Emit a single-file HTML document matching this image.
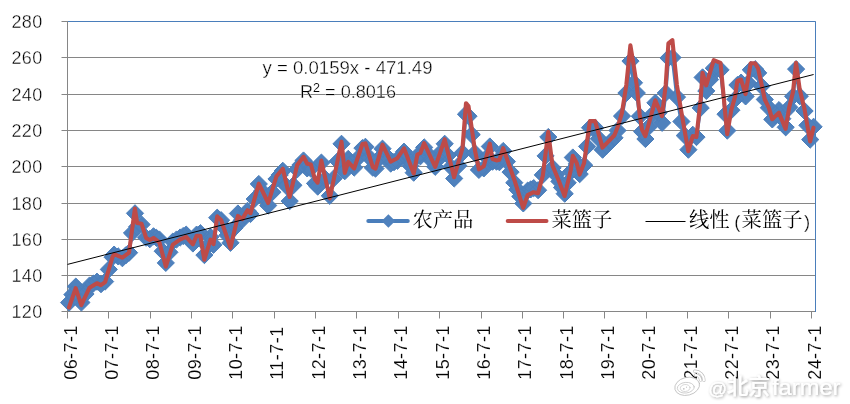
<!DOCTYPE html><html><head><meta charset="utf-8"><title>chart</title><style>html,body{margin:0;padding:0;background:#fff}body{width:850px;height:404px;overflow:hidden;font-family:"Liberation Sans",sans-serif}</style></head><body><svg width="850" height="404" viewBox="0 0 850 404" style="display:block">
<rect width="850" height="404" fill="#fff"/>
<path d="M61.5 21.5H815.5M61.5 57.5H815.5M61.5 94.5H815.5M61.5 130.5H815.5M61.5 166.5H815.5M61.5 203.5H815.5M61.5 239.5H815.5M61.5 275.5H815.5M61.5 311.5H815.5" stroke="#868686" stroke-width="1" fill="none"/>
<path d="M67.5 21.5V311.5M67.5 311.5V318.5M108.5 311.5V318.5M150.5 311.5V318.5M191.5 311.5V318.5M232.5 311.5V318.5M274.5 311.5V318.5M315.5 311.5V318.5M356.5 311.5V318.5M398.5 311.5V318.5M439.5 311.5V318.5M481.5 311.5V318.5M522.5 311.5V318.5M563.5 311.5V318.5M604.5 311.5V318.5M646.5 311.5V318.5M687.5 311.5V318.5M728.5 311.5V318.5M770.5 311.5V318.5M811.5 311.5V318.5" stroke="#868686" stroke-width="1" fill="none"/>
<path d="M68 21.5H815.5V312" stroke="#4A7EBB" stroke-width="1" fill="none"/>
<polyline points="69,302.6 75.7,286.6 81.3,302.5 89.5,285.5 96.9,281.7 100.9,284.2 105.1,281.6 112.5,257.2 114.1,254.6 122.3,258.2 129,252.7 134.9,213.3 137.1,226.8 141.6,224.5 146.1,237.7 149.8,239.2 153.5,236.3 159.4,239.5 165.8,262.9 172.8,241.6 180.2,237.5 186.2,234.6 192.9,243.5 196.6,234.6 200.3,233.2 204.3,255.1 210.5,236.8 213.5,244.8 217.2,217.7 221.1,220.2 230.5,242.8 237.9,213.5 242.3,219.6 247.5,210.8 250.5,214 258.8,184 268.2,205.5 276.5,179 282.8,170.8 289.6,201.1 297.2,169.4 303.5,160.5 307.2,168.4 310.9,168.7 315,183.4 317.6,186.6 321.3,162.6 329.8,195.8 341.5,143.8 344.8,171.2 348.2,158.9 354.1,167.6 362.4,148.1 365.4,146.8 372.8,167.7 375.5,168.6 382.5,148.7 390.6,163.6 397.3,160.8 404,151.7 413.7,172.7 417.4,155.8 420.4,156.3 424.1,147.4 435.2,166.8 444.7,143.8 454.1,178.5 462.5,152.9 466,114.2 468.5,116.2 474.9,153.1 478.9,169.9 483.8,168.4 489.8,146.5 492.5,161.7 496.5,161.6 499.4,162.2 503.2,151 514.3,182.7 523.2,203.4 527.6,190.6 533.6,188.1 538,190.2 542.8,174.9 548.2,137 552.5,167.9 559.3,181.4 564.6,193.7 570.7,171.8 572.8,157.5 576.7,163.9 579.6,174.1 584.1,165.2 589.9,127.7 595.1,127.7 602.5,149.7 614.4,137.8 617.4,130.5 621.9,116.1 626.3,93 630.4,61.1 633.9,82.8 636.7,93 639.7,116.3 642,131.6 645.3,139 655.3,102.8 662,122.8 665.7,93 668.4,58 672.4,57.5 676.9,97.1 681.3,121.5 688.3,149.7 692.7,134.8 696.4,137.1 700.6,107.9 702.5,77.4 706.2,90.9 713.7,68.2 720.5,69.9 725.4,114.2 727.2,130.6 731.3,110.2 735.1,99.2 737.3,85 741,82.6 745.5,96.4 750.7,69.8 755.1,69.2 758.1,72.9 764.8,99.5 768.8,107.7 772.2,119.4 778.9,110.1 785.6,127.3 789.3,107.4 793,96.3 796,69.1 799.7,96.2 804.5,111 810.1,139.6 813.5,126.8" fill="none" stroke="#4A7EBB" stroke-width="3.5" stroke-linejoin="round" stroke-linecap="round"/>
<path d="M60.5 302.6l8.6 -8.6l8.6 8.6l-8.6 8.6zM63.8 294.6l8.6 -8.6l8.6 8.6l-8.6 8.6zM67.2 286.6l8.6 -8.6l8.6 8.6l-8.6 8.6zM70 294.6l8.6 -8.6l8.6 8.6l-8.6 8.6zM72.8 302.5l8.6 -8.6l8.6 8.6l-8.6 8.6zM76.9 294l8.6 -8.6l8.6 8.6l-8.6 8.6zM81 285.5l8.6 -8.6l8.6 8.6l-8.6 8.6zM84.7 283.6l8.6 -8.6l8.6 8.6l-8.6 8.6zM88.4 281.7l8.6 -8.6l8.6 8.6l-8.6 8.6zM92.4 284.2l8.6 -8.6l8.6 8.6l-8.6 8.6zM96.5 281.6l8.6 -8.6l8.6 8.6l-8.6 8.6zM100.2 269.4l8.6 -8.6l8.6 8.6l-8.6 8.6zM104 257.2l8.6 -8.6l8.6 8.6l-8.6 8.6zM105.5 254.6l8.6 -8.6l8.6 8.6l-8.6 8.6zM109.6 256.4l8.6 -8.6l8.6 8.6l-8.6 8.6zM113.8 258.2l8.6 -8.6l8.6 8.6l-8.6 8.6zM117.1 255.4l8.6 -8.6l8.6 8.6l-8.6 8.6zM120.5 252.7l8.6 -8.6l8.6 8.6l-8.6 8.6zM123.4 233l8.6 -8.6l8.6 8.6l-8.6 8.6zM126.4 213.3l8.6 -8.6l8.6 8.6l-8.6 8.6zM128.5 226.8l8.6 -8.6l8.6 8.6l-8.6 8.6zM133 224.5l8.6 -8.6l8.6 8.6l-8.6 8.6zM137.5 237.7l8.6 -8.6l8.6 8.6l-8.6 8.6zM141.2 239.2l8.6 -8.6l8.6 8.6l-8.6 8.6zM144.9 236.3l8.6 -8.6l8.6 8.6l-8.6 8.6zM147.9 237.9l8.6 -8.6l8.6 8.6l-8.6 8.6zM150.8 239.5l8.6 -8.6l8.6 8.6l-8.6 8.6zM154.1 251.2l8.6 -8.6l8.6 8.6l-8.6 8.6zM157.2 262.9l8.6 -8.6l8.6 8.6l-8.6 8.6zM160.8 252.3l8.6 -8.6l8.6 8.6l-8.6 8.6zM164.2 241.6l8.6 -8.6l8.6 8.6l-8.6 8.6zM167.9 239.5l8.6 -8.6l8.6 8.6l-8.6 8.6zM171.6 237.5l8.6 -8.6l8.6 8.6l-8.6 8.6zM174.6 236l8.6 -8.6l8.6 8.6l-8.6 8.6zM177.6 234.6l8.6 -8.6l8.6 8.6l-8.6 8.6zM181 239.1l8.6 -8.6l8.6 8.6l-8.6 8.6zM184.3 243.5l8.6 -8.6l8.6 8.6l-8.6 8.6zM188 234.6l8.6 -8.6l8.6 8.6l-8.6 8.6zM191.8 233.2l8.6 -8.6l8.6 8.6l-8.6 8.6zM195.8 255.1l8.6 -8.6l8.6 8.6l-8.6 8.6zM198.8 246l8.6 -8.6l8.6 8.6l-8.6 8.6zM201.9 236.8l8.6 -8.6l8.6 8.6l-8.6 8.6zM204.9 244.8l8.6 -8.6l8.6 8.6l-8.6 8.6zM208.6 217.7l8.6 -8.6l8.6 8.6l-8.6 8.6zM212.5 220.2l8.6 -8.6l8.6 8.6l-8.6 8.6zM215.7 227.7l8.6 -8.6l8.6 8.6l-8.6 8.6zM218.8 235.3l8.6 -8.6l8.6 8.6l-8.6 8.6zM221.9 242.8l8.6 -8.6l8.6 8.6l-8.6 8.6zM225.6 228.2l8.6 -8.6l8.6 8.6l-8.6 8.6zM229.3 213.5l8.6 -8.6l8.6 8.6l-8.6 8.6zM233.8 219.6l8.6 -8.6l8.6 8.6l-8.6 8.6zM236.3 215.2l8.6 -8.6l8.6 8.6l-8.6 8.6zM238.9 210.8l8.6 -8.6l8.6 8.6l-8.6 8.6zM241.9 214l8.6 -8.6l8.6 8.6l-8.6 8.6zM246.1 199l8.6 -8.6l8.6 8.6l-8.6 8.6zM250.2 184l8.6 -8.6l8.6 8.6l-8.6 8.6zM253.4 191.1l8.6 -8.6l8.6 8.6l-8.6 8.6zM256.5 198.3l8.6 -8.6l8.6 8.6l-8.6 8.6zM259.6 205.5l8.6 -8.6l8.6 8.6l-8.6 8.6zM263.8 192.2l8.6 -8.6l8.6 8.6l-8.6 8.6zM267.9 179l8.6 -8.6l8.6 8.6l-8.6 8.6zM271.1 174.9l8.6 -8.6l8.6 8.6l-8.6 8.6zM274.2 170.8l8.6 -8.6l8.6 8.6l-8.6 8.6zM277.7 186l8.6 -8.6l8.6 8.6l-8.6 8.6zM281.1 201.1l8.6 -8.6l8.6 8.6l-8.6 8.6zM284.8 185.3l8.6 -8.6l8.6 8.6l-8.6 8.6zM288.6 169.4l8.6 -8.6l8.6 8.6l-8.6 8.6zM291.8 165l8.6 -8.6l8.6 8.6l-8.6 8.6zM294.9 160.5l8.6 -8.6l8.6 8.6l-8.6 8.6zM298.6 168.4l8.6 -8.6l8.6 8.6l-8.6 8.6zM302.3 168.7l8.6 -8.6l8.6 8.6l-8.6 8.6zM306.4 183.4l8.6 -8.6l8.6 8.6l-8.6 8.6zM309.1 186.6l8.6 -8.6l8.6 8.6l-8.6 8.6zM312.8 162.6l8.6 -8.6l8.6 8.6l-8.6 8.6zM317 179.2l8.6 -8.6l8.6 8.6l-8.6 8.6zM321.2 195.8l8.6 -8.6l8.6 8.6l-8.6 8.6zM325.1 178.5l8.6 -8.6l8.6 8.6l-8.6 8.6zM329.1 161.1l8.6 -8.6l8.6 8.6l-8.6 8.6zM332.9 143.8l8.6 -8.6l8.6 8.6l-8.6 8.6zM336.2 171.2l8.6 -8.6l8.6 8.6l-8.6 8.6zM339.6 158.9l8.6 -8.6l8.6 8.6l-8.6 8.6zM342.6 163.2l8.6 -8.6l8.6 8.6l-8.6 8.6zM345.6 167.6l8.6 -8.6l8.6 8.6l-8.6 8.6zM349.7 157.8l8.6 -8.6l8.6 8.6l-8.6 8.6zM353.8 148.1l8.6 -8.6l8.6 8.6l-8.6 8.6zM356.8 146.8l8.6 -8.6l8.6 8.6l-8.6 8.6zM360.6 157.3l8.6 -8.6l8.6 8.6l-8.6 8.6zM364.2 167.7l8.6 -8.6l8.6 8.6l-8.6 8.6zM366.9 168.6l8.6 -8.6l8.6 8.6l-8.6 8.6zM370.4 158.6l8.6 -8.6l8.6 8.6l-8.6 8.6zM373.9 148.7l8.6 -8.6l8.6 8.6l-8.6 8.6zM378 156.2l8.6 -8.6l8.6 8.6l-8.6 8.6zM382.1 163.6l8.6 -8.6l8.6 8.6l-8.6 8.6zM385.4 162.2l8.6 -8.6l8.6 8.6l-8.6 8.6zM388.8 160.8l8.6 -8.6l8.6 8.6l-8.6 8.6zM392.1 156.2l8.6 -8.6l8.6 8.6l-8.6 8.6zM395.4 151.7l8.6 -8.6l8.6 8.6l-8.6 8.6zM398.7 158.7l8.6 -8.6l8.6 8.6l-8.6 8.6zM401.9 165.7l8.6 -8.6l8.6 8.6l-8.6 8.6zM405.1 172.7l8.6 -8.6l8.6 8.6l-8.6 8.6zM408.8 155.8l8.6 -8.6l8.6 8.6l-8.6 8.6zM411.8 156.3l8.6 -8.6l8.6 8.6l-8.6 8.6zM415.6 147.4l8.6 -8.6l8.6 8.6l-8.6 8.6zM419.2 153.9l8.6 -8.6l8.6 8.6l-8.6 8.6zM422.9 160.4l8.6 -8.6l8.6 8.6l-8.6 8.6zM426.6 166.8l8.6 -8.6l8.6 8.6l-8.6 8.6zM429.8 159.1l8.6 -8.6l8.6 8.6l-8.6 8.6zM433 151.5l8.6 -8.6l8.6 8.6l-8.6 8.6zM436.1 143.8l8.6 -8.6l8.6 8.6l-8.6 8.6zM439.3 155.4l8.6 -8.6l8.6 8.6l-8.6 8.6zM442.4 167l8.6 -8.6l8.6 8.6l-8.6 8.6zM445.6 178.5l8.6 -8.6l8.6 8.6l-8.6 8.6zM449.8 165.7l8.6 -8.6l8.6 8.6l-8.6 8.6zM453.9 152.9l8.6 -8.6l8.6 8.6l-8.6 8.6zM457.4 114.2l8.6 -8.6l8.6 8.6l-8.6 8.6zM459.9 116.2l8.6 -8.6l8.6 8.6l-8.6 8.6zM463.1 134.6l8.6 -8.6l8.6 8.6l-8.6 8.6zM466.3 153.1l8.6 -8.6l8.6 8.6l-8.6 8.6zM470.3 169.9l8.6 -8.6l8.6 8.6l-8.6 8.6zM475.2 168.4l8.6 -8.6l8.6 8.6l-8.6 8.6zM478.2 157.4l8.6 -8.6l8.6 8.6l-8.6 8.6zM481.2 146.5l8.6 -8.6l8.6 8.6l-8.6 8.6zM483.9 161.7l8.6 -8.6l8.6 8.6l-8.6 8.6zM487.9 161.6l8.6 -8.6l8.6 8.6l-8.6 8.6zM490.8 162.2l8.6 -8.6l8.6 8.6l-8.6 8.6zM494.6 151l8.6 -8.6l8.6 8.6l-8.6 8.6zM498.3 161.6l8.6 -8.6l8.6 8.6l-8.6 8.6zM502 172.1l8.6 -8.6l8.6 8.6l-8.6 8.6zM505.7 182.7l8.6 -8.6l8.6 8.6l-8.6 8.6zM508.7 189.6l8.6 -8.6l8.6 8.6l-8.6 8.6zM511.7 196.5l8.6 -8.6l8.6 8.6l-8.6 8.6zM514.7 203.4l8.6 -8.6l8.6 8.6l-8.6 8.6zM519.1 190.6l8.6 -8.6l8.6 8.6l-8.6 8.6zM522.1 189.4l8.6 -8.6l8.6 8.6l-8.6 8.6zM525.1 188.1l8.6 -8.6l8.6 8.6l-8.6 8.6zM529.5 190.2l8.6 -8.6l8.6 8.6l-8.6 8.6zM534.2 174.9l8.6 -8.6l8.6 8.6l-8.6 8.6zM537 155.9l8.6 -8.6l8.6 8.6l-8.6 8.6zM539.7 137l8.6 -8.6l8.6 8.6l-8.6 8.6zM544 167.9l8.6 -8.6l8.6 8.6l-8.6 8.6zM547.4 174.7l8.6 -8.6l8.6 8.6l-8.6 8.6zM550.8 181.4l8.6 -8.6l8.6 8.6l-8.6 8.6zM553.4 187.6l8.6 -8.6l8.6 8.6l-8.6 8.6zM556.1 193.7l8.6 -8.6l8.6 8.6l-8.6 8.6zM559.1 182.8l8.6 -8.6l8.6 8.6l-8.6 8.6zM562.2 171.8l8.6 -8.6l8.6 8.6l-8.6 8.6zM564.2 157.5l8.6 -8.6l8.6 8.6l-8.6 8.6zM568.2 163.9l8.6 -8.6l8.6 8.6l-8.6 8.6zM571.1 174.1l8.6 -8.6l8.6 8.6l-8.6 8.6zM575.6 165.2l8.6 -8.6l8.6 8.6l-8.6 8.6zM578.5 146.4l8.6 -8.6l8.6 8.6l-8.6 8.6zM581.4 127.7l8.6 -8.6l8.6 8.6l-8.6 8.6zM584 127.7l8.6 -8.6l8.6 8.6l-8.6 8.6zM586.6 127.7l8.6 -8.6l8.6 8.6l-8.6 8.6zM590.2 138.7l8.6 -8.6l8.6 8.6l-8.6 8.6zM594 149.7l8.6 -8.6l8.6 8.6l-8.6 8.6zM597.9 145.7l8.6 -8.6l8.6 8.6l-8.6 8.6zM601.9 141.8l8.6 -8.6l8.6 8.6l-8.6 8.6zM605.9 137.8l8.6 -8.6l8.6 8.6l-8.6 8.6zM608.9 130.5l8.6 -8.6l8.6 8.6l-8.6 8.6zM613.4 116.1l8.6 -8.6l8.6 8.6l-8.6 8.6zM617.8 93l8.6 -8.6l8.6 8.6l-8.6 8.6zM621.9 61.1l8.6 -8.6l8.6 8.6l-8.6 8.6zM625.4 82.8l8.6 -8.6l8.6 8.6l-8.6 8.6zM628.2 93l8.6 -8.6l8.6 8.6l-8.6 8.6zM631.2 116.3l8.6 -8.6l8.6 8.6l-8.6 8.6zM633.5 131.6l8.6 -8.6l8.6 8.6l-8.6 8.6zM636.8 139l8.6 -8.6l8.6 8.6l-8.6 8.6zM640.1 127l8.6 -8.6l8.6 8.6l-8.6 8.6zM643.4 114.9l8.6 -8.6l8.6 8.6l-8.6 8.6zM646.8 102.8l8.6 -8.6l8.6 8.6l-8.6 8.6zM650.1 112.8l8.6 -8.6l8.6 8.6l-8.6 8.6zM653.5 122.8l8.6 -8.6l8.6 8.6l-8.6 8.6zM657.2 93l8.6 -8.6l8.6 8.6l-8.6 8.6zM659.9 58l8.6 -8.6l8.6 8.6l-8.6 8.6zM663.9 57.5l8.6 -8.6l8.6 8.6l-8.6 8.6zM668.4 97.1l8.6 -8.6l8.6 8.6l-8.6 8.6zM672.8 121.5l8.6 -8.6l8.6 8.6l-8.6 8.6zM676.2 135.6l8.6 -8.6l8.6 8.6l-8.6 8.6zM679.8 149.7l8.6 -8.6l8.6 8.6l-8.6 8.6zM684.2 134.8l8.6 -8.6l8.6 8.6l-8.6 8.6zM687.9 137.1l8.6 -8.6l8.6 8.6l-8.6 8.6zM692.1 107.9l8.6 -8.6l8.6 8.6l-8.6 8.6zM694 77.4l8.6 -8.6l8.6 8.6l-8.6 8.6zM697.7 90.9l8.6 -8.6l8.6 8.6l-8.6 8.6zM701.4 79.6l8.6 -8.6l8.6 8.6l-8.6 8.6zM705.2 68.2l8.6 -8.6l8.6 8.6l-8.6 8.6zM708.6 69.1l8.6 -8.6l8.6 8.6l-8.6 8.6zM712 69.9l8.6 -8.6l8.6 8.6l-8.6 8.6zM716.9 114.2l8.6 -8.6l8.6 8.6l-8.6 8.6zM718.7 130.6l8.6 -8.6l8.6 8.6l-8.6 8.6zM722.8 110.2l8.6 -8.6l8.6 8.6l-8.6 8.6zM726.6 99.2l8.6 -8.6l8.6 8.6l-8.6 8.6zM728.8 85l8.6 -8.6l8.6 8.6l-8.6 8.6zM732.5 82.6l8.6 -8.6l8.6 8.6l-8.6 8.6zM737 96.4l8.6 -8.6l8.6 8.6l-8.6 8.6zM739.6 83.1l8.6 -8.6l8.6 8.6l-8.6 8.6zM742.2 69.8l8.6 -8.6l8.6 8.6l-8.6 8.6zM746.6 69.2l8.6 -8.6l8.6 8.6l-8.6 8.6zM749.6 72.9l8.6 -8.6l8.6 8.6l-8.6 8.6zM752.9 86.2l8.6 -8.6l8.6 8.6l-8.6 8.6zM756.2 99.5l8.6 -8.6l8.6 8.6l-8.6 8.6zM760.2 107.7l8.6 -8.6l8.6 8.6l-8.6 8.6zM763.7 119.4l8.6 -8.6l8.6 8.6l-8.6 8.6zM767 114.8l8.6 -8.6l8.6 8.6l-8.6 8.6zM770.4 110.1l8.6 -8.6l8.6 8.6l-8.6 8.6zM773.7 118.7l8.6 -8.6l8.6 8.6l-8.6 8.6zM777.1 127.3l8.6 -8.6l8.6 8.6l-8.6 8.6zM780.8 107.4l8.6 -8.6l8.6 8.6l-8.6 8.6zM784.5 96.3l8.6 -8.6l8.6 8.6l-8.6 8.6zM787.5 69.1l8.6 -8.6l8.6 8.6l-8.6 8.6zM791.2 96.2l8.6 -8.6l8.6 8.6l-8.6 8.6zM796 111l8.6 -8.6l8.6 8.6l-8.6 8.6zM798.8 125.3l8.6 -8.6l8.6 8.6l-8.6 8.6zM801.6 139.6l8.6 -8.6l8.6 8.6l-8.6 8.6zM805 126.8l8.6 -8.6l8.6 8.6l-8.6 8.6z" fill="#4F81BD" stroke="#4A7EBB" stroke-width="1" stroke-linejoin="miter"/>
<polyline points="69,307.5 75.7,288.1 81.3,305.2 89.5,287.7 96.9,283.2 100.9,285.2 105.1,282.2 112.5,257 114.1,254.2 122.3,257.7 129,252.7 134.9,208.6 137.1,223 141.6,223.8 146.1,237.9 149.8,240.1 153.5,237.9 159.4,242.3 165.8,266.6 172.8,244.6 180.2,239.4 186.2,236.9 192.9,244.3 196.6,235.7 200.3,235.7 204.3,259.7 210.5,239.7 213.5,244.2 217.2,216.4 221.1,220 230.5,247.8 237.9,215.9 242.3,219.1 247.5,210.2 250.5,213.2 258.8,183.7 268.2,203 276.5,176.2 282.8,168.7 289.6,197 297.2,165 303.5,156.8 307.2,163.8 310.9,164.5 315,179.5 317.6,182.7 321.3,160.5 329.8,198.4 341.5,141.7 344.8,172.9 348.2,161.8 354.1,168.5 362.4,144.1 365.4,143.4 372.8,167.2 375.5,168.6 382.5,144.6 390.6,161.7 397.3,158.2 404,148.3 413.7,173.5 417.4,154.5 420.4,153 424.1,143.1 435.2,166.8 444.7,139.4 454.1,177.2 462.5,148 466,103.2 468.5,106 474.9,150 478.9,169.3 483.8,166.3 489.8,143.7 492.5,159 496.5,160.4 499.4,159.7 503.2,148.2 514.3,179.7 523.2,207.8 527.6,195.2 533.6,192.2 538,193.2 542.8,175.8 548.2,131.9 552.5,165.5 559.3,182 564.6,196.1 570.7,170.4 572.8,155.8 576.7,163 579.6,174.6 584.1,163 589.9,121.1 595.1,121.1 602.5,147.6 614.4,135.3 617.4,127.8 621.9,113.1 626.3,85 630.4,45.3 633.9,66.8 636.7,85 639.7,114.7 642,129.6 645.3,136.2 655.3,100.3 662,116.1 665.7,85 668.4,43.4 672.4,40.1 676.9,85 681.3,111.7 688.3,151.3 692.7,136 696.4,137 700.6,99.9 702.5,72.8 706.2,85.4 713.7,60.2 720.5,62.9 725.4,115 727.2,134.1 731.3,110 735.1,96.6 737.3,81 741,79.5 745.5,94.1 750.7,63.2 755.1,63.2 758.1,68.4 764.8,99.5 768.8,107.7 772.2,119.2 778.9,112.6 785.6,128.9 789.3,106.9 793,92.1 796,62.9 799.7,89.2 804.5,109 810.1,141.5 813.5,127.7" fill="none" stroke="#BE4B48" stroke-width="4.1" stroke-linejoin="round" stroke-linecap="round"/>
<line x1="67.5" y1="264.4" x2="813.6" y2="74.5" stroke="#000" stroke-width="1"/>
<g font-family="Liberation Sans, sans-serif" font-size="18" fill="#000" stroke="#fff" stroke-width="0.35" opacity="0.999">
<text x="42.7" y="27.9" text-anchor="end" letter-spacing="0.4">280</text>
<text x="42.7" y="63.9" text-anchor="end" letter-spacing="0.4">260</text>
<text x="42.7" y="100.9" text-anchor="end" letter-spacing="0.4">240</text>
<text x="42.7" y="136.9" text-anchor="end" letter-spacing="0.4">220</text>
<text x="42.7" y="172.9" text-anchor="end" letter-spacing="0.4">200</text>
<text x="42.7" y="209.9" text-anchor="end" letter-spacing="0.4">180</text>
<text x="42.7" y="245.9" text-anchor="end" letter-spacing="0.4">160</text>
<text x="42.7" y="281.9" text-anchor="end" letter-spacing="0.4">140</text>
<text x="42.7" y="317.9" text-anchor="end" letter-spacing="0.4">120</text>
<text transform="translate(76.6 379.8) rotate(-90)" letter-spacing="0.45" stroke-width="0.12">06-7-1</text>
<text transform="translate(117.9 379.8) rotate(-90)" letter-spacing="0.45" stroke-width="0.12">07-7-1</text>
<text transform="translate(159.3 379.8) rotate(-90)" letter-spacing="0.45" stroke-width="0.12">08-7-1</text>
<text transform="translate(200.6 379.8) rotate(-90)" letter-spacing="0.45" stroke-width="0.12">09-7-1</text>
<text transform="translate(241.9 379.8) rotate(-90)" letter-spacing="0.45" stroke-width="0.12">10-7-1</text>
<text transform="translate(283.2 379.8) rotate(-90)" letter-spacing="0.45" stroke-width="0.12">11-7-1</text>
<text transform="translate(324.6 379.8) rotate(-90)" letter-spacing="0.45" stroke-width="0.12">12-7-1</text>
<text transform="translate(365.9 379.8) rotate(-90)" letter-spacing="0.45" stroke-width="0.12">13-7-1</text>
<text transform="translate(407.2 379.8) rotate(-90)" letter-spacing="0.45" stroke-width="0.12">14-7-1</text>
<text transform="translate(448.6 379.8) rotate(-90)" letter-spacing="0.45" stroke-width="0.12">15-7-1</text>
<text transform="translate(489.9 379.8) rotate(-90)" letter-spacing="0.45" stroke-width="0.12">16-7-1</text>
<text transform="translate(531.2 379.8) rotate(-90)" letter-spacing="0.45" stroke-width="0.12">17-7-1</text>
<text transform="translate(572.5 379.8) rotate(-90)" letter-spacing="0.45" stroke-width="0.12">18-7-1</text>
<text transform="translate(613.9 379.8) rotate(-90)" letter-spacing="0.45" stroke-width="0.12">19-7-1</text>
<text transform="translate(655.2 379.8) rotate(-90)" letter-spacing="0.45" stroke-width="0.12">20-7-1</text>
<text transform="translate(696.5 379.8) rotate(-90)" letter-spacing="0.45" stroke-width="0.12">21-7-1</text>
<text transform="translate(737.8 379.8) rotate(-90)" letter-spacing="0.45" stroke-width="0.12">22-7-1</text>
<text transform="translate(779.2 379.8) rotate(-90)" letter-spacing="0.45" stroke-width="0.12">23-7-1</text>
<text transform="translate(820.5 379.8) rotate(-90)" letter-spacing="0.45" stroke-width="0.12">24-7-1</text>
<text x="347.5" y="74.2" text-anchor="middle" textLength="170" lengthAdjust="spacingAndGlyphs">y = 0.0159x - 471.49</text>
<text x="348" y="97.8" text-anchor="middle" textLength="96" lengthAdjust="spacingAndGlyphs">R<tspan font-size="12.5" dy="-5.6" stroke-width="0.1">2</tspan><tspan dy="5.6"> = 0.8016</tspan></text>
<text x="734.2" y="227.5" font-size="18.5" stroke-width="0.3">(</text><text x="804.1" y="227.5" font-size="18.5" stroke-width="0.3">)</text></g>
<line x1="368.3" y1="221" x2="407.8" y2="221" stroke="#4A7EBB" stroke-width="4" stroke-linecap="round"/>
<path d="M381.6 221L388.4 214.2L395.2 221L388.4 227.8z" fill="#4F81BD"/>
<text x="412.5" y="227.4" font-family="'Liberation Serif', 'Noto Serif CJK SC', serif" font-size="20.3" fill="#000">农产品</text>
<line x1="507.7" y1="221" x2="546.5" y2="221" stroke="#BE4B48" stroke-width="4" stroke-linecap="round"/>
<text x="551.5" y="227.4" font-family="'Liberation Serif', 'Noto Serif CJK SC', serif" font-size="20.3" fill="#000">菜篮子</text>
<line x1="645.5" y1="221.5" x2="685.5" y2="221.5" stroke="#000" stroke-width="1"/>
<text x="689" y="227.4" font-family="'Liberation Serif', 'Noto Serif CJK SC', serif" font-size="20.3" fill="#000">线性</text>
<text x="741.6" y="227.4" font-family="'Liberation Serif', 'Noto Serif CJK SC', serif" font-size="20.3" fill="#000">菜篮子</text>
<defs><filter id="sh" x="-10%" y="-40%" width="120%" height="180%"><feGaussianBlur in="SourceAlpha" stdDeviation="1.4"/><feOffset dx="0.8" dy="0.8" result="b"/><feFlood flood-color="#000" flood-opacity="0.42"/><feComposite in2="b" operator="in"/><feMerge><feMergeNode/><feMergeNode in="SourceGraphic"/></feMerge></filter></defs>
<g filter="url(#sh)"><text x="708.3" y="394.6" font-family="Liberation Sans, sans-serif" font-size="18.5" fill="#fff">@</text><text x="727" y="394.3" font-family="'Liberation Sans', 'Noto Sans CJK SC', sans-serif" font-size="21.6" font-weight="500" fill="#fff">北京</text><text x="772" y="394.8" font-family="Liberation Sans, sans-serif" font-size="22" fill="#fff" textLength="68.5" lengthAdjust="spacingAndGlyphs">farmer</text></g><g stroke-linecap="round"><path d="M694.7 371.2A9 9 0 0 1 703.9 380.4M695.4 375A5.6 5.6 0 0 1 700.6 380.2" fill="none" stroke="#bdbdbd" stroke-width="3.2"/><path d="M694.7 371.2A9 9 0 0 1 703.9 380.4M695.4 375A5.6 5.6 0 0 1 700.6 380.2" fill="none" stroke="#fff" stroke-width="2"/><ellipse cx="687.2" cy="386.3" rx="12.6" ry="8.9" transform="rotate(-14 687.2 386.3)" fill="#fff" stroke="#bcbcbc" stroke-width="0.8"/><ellipse cx="685.8" cy="387.7" rx="8.5" ry="5.3" transform="rotate(-6 685.8 387.7)" fill="none" stroke="#c6c6c6" stroke-width="0.8"/><ellipse cx="685.2" cy="388" rx="4.9" ry="3.5" transform="rotate(-6 685.2 388)" fill="none" stroke="#cfcfcf" stroke-width="0.8"/><circle cx="683.8" cy="388.8" r="0.9" fill="#c4c4c4"/><circle cx="686.5" cy="387.2" r="0.6" fill="#c4c4c4"/></g>
</svg></body></html>
